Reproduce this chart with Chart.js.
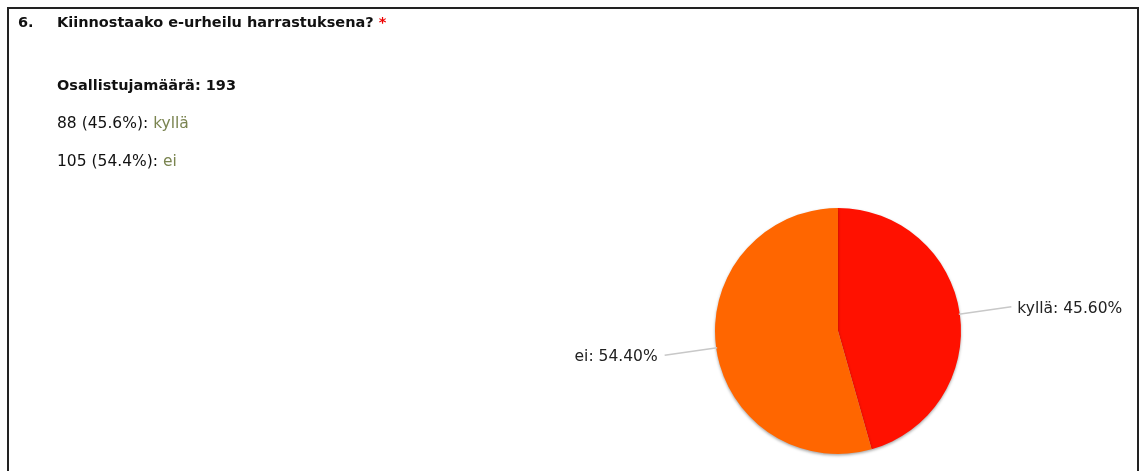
<!DOCTYPE html>
<html lang="fi">
<head>
<meta charset="utf-8">
<title>Kiinnostaako e-urheilu harrastuksena?</title>
<script src="https://cdn.jsdelivr.net/npm/chart.js@4/dist/chart.umd.min.js"></script>
<style>
  html, body { margin: 0; padding: 0; background: #fff; }
  body { width: 1140px; height: 471px; overflow: hidden; position: relative; font-family: "DejaVu Sans", Verdana, sans-serif; }
  #frame { position: absolute; left: 7px; top: 7px; width: 1132px; height: 480px; border: 2px solid #222; border-bottom: none; box-sizing: border-box; }
  #chart { position: absolute; left: 0; top: 0; }
  .txt { position: absolute; font-size: 15.5px; line-height: 20px; color: #111; white-space: nowrap; }
  .b { font-weight: bold; font-size: 14.5px; }
  .req { color: #e00; }
  .ans { color: #7a8450; }
</style>
</head>
<body>
<canvas id="chart" width="1140" height="471"></canvas>
<div id="frame"></div>
<div class="txt b" style="left:18px; top:12px;">6.</div>
<div class="txt b" style="left:57px; top:12px;">Kiinnostaako e-urheilu harrastuksena? <span class="req">*</span></div>
<div class="txt b" style="left:57px; top:75px;">Osallistujamäärä: <span id="total"></span></div>
<div id="rows"></div>
<script>
// vastaukset
const answers = ["kyllä", "ei"];
const counts = [88, 105];
const sliceColors = ["#ff1100", "#ff6600"];

const total = counts.reduce((a, b) => a + b, 0);
document.getElementById("total").textContent = total;

// vastausrivit tekstinä
const rows = document.getElementById("rows");
answers.forEach((a, i) => {
  const d = document.createElement("div");
  d.className = "txt";
  d.style.left = "57px";
  d.style.top = (113 + i * 38) + "px";
  const pct = (counts[i] / total * 100).toFixed(1);
  d.innerHTML = counts[i] + " (" + pct + "%): <span class=\"ans\">" + a + "</span>";
  rows.appendChild(d);
});

// varjo piirakan alle
const sliceShadow = {
  id: "sliceShadow",
  beforeDatasetDraw(chart) {
    const ctx = chart.ctx;
    ctx.save();
    ctx.shadowColor = "rgba(0,0,0,0.35)";
    ctx.shadowBlur = 3;
    ctx.shadowOffsetY = 1.5;
  },
  afterDatasetDraw(chart) {
    chart.ctx.restore();
  }
};

// viivat ja prosenttitekstit lohkojen viereen
const outLabels = {
  id: "outLabels",
  afterDatasetsDraw(chart) {
    const ctx = chart.ctx;
    const meta = chart.getDatasetMeta(0);
    ctx.save();
    meta.data.forEach((arc, i) => {
      const p = arc.getProps(["x", "y", "startAngle", "endAngle", "outerRadius"], true);
      const mid = (p.startAngle + p.endAngle) / 2;
      const r1 = p.outerRadius - 1;
      const r2 = p.outerRadius + 52;
      const x1 = p.x + Math.cos(mid) * r1, y1 = p.y + Math.sin(mid) * r1;
      const x2 = p.x + Math.cos(mid) * r2, y2 = p.y + Math.sin(mid) * r2;
      ctx.strokeStyle = "#c8c8c8";
      ctx.lineWidth = 1.5;
      ctx.beginPath();
      ctx.moveTo(x1, y1);
      ctx.lineTo(x2, y2);
      ctx.stroke();
      const right = Math.cos(mid) >= 0;
      const label = answers[i] + ": " + (counts[i] / total * 100).toFixed(2) + "%";
      ctx.font = "15.5px 'DejaVu Sans', Verdana, sans-serif";
      ctx.fillStyle = "#222";
      ctx.textBaseline = "middle";
      ctx.textAlign = right ? "left" : "right";
      ctx.fillText(label, x2 + (right ? 6 : -7), y2 + 2);
    });
    ctx.restore();
  }
};

new Chart(document.getElementById("chart"), {
  type: "pie",
  data: {
    labels: answers,
    datasets: [{
      data: counts,
      backgroundColor: sliceColors,
      borderWidth: 0
    }]
  },
  options: {
    responsive: false,
    animation: false,
    layout: { padding: { left: 715, right: 179, top: 208, bottom: 17 } },
    plugins: {
      legend: { display: false },
      tooltip: { enabled: false }
    }
  },
  plugins: [sliceShadow, outLabels]
});
</script>
</body>
</html>
